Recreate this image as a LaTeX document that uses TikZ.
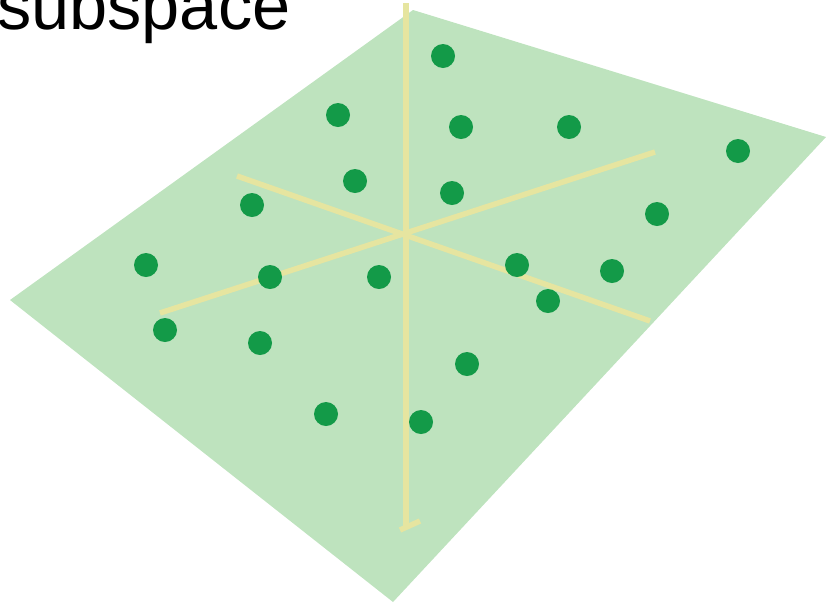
\documentclass[tikz,border=0pt]{standalone}
\usepackage{fontspec}
\setmainfont{Liberation Sans}
\definecolor{planegreen}{HTML}{BEE3BE}
\definecolor{axisyellow}{HTML}{E6E5A0}
\definecolor{dotgreen}{HTML}{139A48}
\begin{document}
\begin{tikzpicture}[x=1pt,y=-1pt,
  plane/.style={fill=planegreen,draw=none},
  axis/.style={draw=axisyellow,line width=6pt},
  pt/.style={circle,fill=dotgreen,minimum size=24pt,inner sep=0pt}]
\useasboundingbox (0,0) rectangle (826,606);
\begin{scope}
\clip (0,0) rectangle (826,606);
\fill[plane] (10,300) -- (413,10) -- (826,137) -- (393,602) -- cycle;
\coordinate (c) at (406,233);
\coordinate (vt) at (406,3);
\coordinate (vb) at (406,526);
\coordinate (tl) at (400,530);
\coordinate (tr) at (420,521);
\coordinate (a1) at (237,176);
\coordinate (a2) at (650,321);
\coordinate (b1) at (160,313);
\coordinate (b2) at (655,152);
\draw[axis] (vt) -- (vb);
\draw[axis,line width=5.5pt] (tl) -- (tr);
\draw[axis,line width=5.5pt] (a1) -- (a2);
\draw[axis,line width=5.5pt] (b1) -- (b2);
\node[pt] (p1) at (443,56) {};
\node[pt] (p2) at (338,115) {};
\node[pt] (p3) at (461,127) {};
\node[pt] (p4) at (569,127) {};
\node[pt] (p5) at (738,151) {};
\node[pt] (p6) at (355,181) {};
\node[pt] (p7) at (452,193) {};
\node[pt] (p8) at (252,205) {};
\node[pt] (p9) at (657,214) {};
\node[pt] (p10) at (146,265) {};
\node[pt] (p11) at (270,277) {};
\node[pt] (p12) at (379,277) {};
\node[pt] (p13) at (517,265) {};
\node[pt] (p14) at (612,271) {};
\node[pt] (p15) at (548,301) {};
\node[pt] (p16) at (165,330) {};
\node[pt] (p17) at (260,343) {};
\node[pt] (p18) at (467,364) {};
\node[pt] (p19) at (326,414) {};
\node[pt] (p20) at (421,422) {};
\node[anchor=base west,inner sep=0pt,font=\fontsize{68.5}{68.5}\selectfont] (title) at (-3,29) {subspace};
\end{scope}
\end{tikzpicture}
\end{document}
